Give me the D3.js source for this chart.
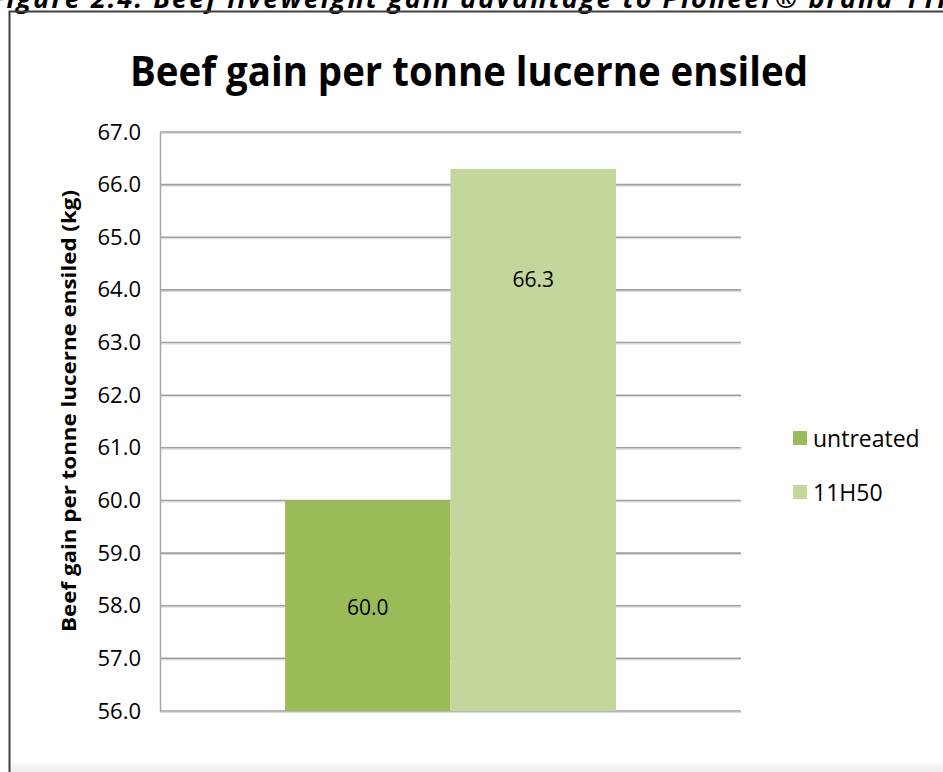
<!DOCTYPE html>
<html>
<head>
<meta charset="utf-8">
<script src="https://cdn.jsdelivr.net/npm/d3@7/dist/d3.min.js"></script>
<style>
  html, body { margin: 0; padding: 0; background: #fff; }
  svg { display: block; }
  text { font-family: "Open Sans", "Liberation Sans", sans-serif; fill: #000; }
</style>
</head>
<body>
<svg id="chart" width="943" height="772"></svg>
<script>
// Chart data
const categories = ["untreated", "11H50"];
const values = [60.0, 66.3];
const colors = ["#9BBB59", "#C3D69B"];
const yTicks = [56, 57, 58, 59, 60, 61, 62, 63, 64, 65, 66, 67];
const chartTitle = "Beef gain per tonne lucerne ensiled";
const yAxisTitle = "Beef gain per tonne lucerne ensiled (kg)";
const captionText = "Figure 2.4: Beef liveweight gain advantage to Pioneer\u00AE brand 11H50";

const svg = d3.select("#chart");
const W = 943, H = 772;

// Document caption above the chart frame (runs past the page top)
svg.append("text")
  .attr("x", -10).attr("y", 8)
  .attr("textLength", 1000).attr("lengthAdjust", "spacing")
  .style("font-size", "27px").style("font-weight", "bold").style("font-style", "italic")
  .text(captionText);

// Soft shading along the bottom edge
const defs = svg.append("defs");
const grad = defs.append("linearGradient").attr("id", "bottomShade")
  .attr("x1", 0).attr("y1", 0).attr("x2", 0).attr("y2", 1);
grad.append("stop").attr("offset", "0%").attr("stop-color", "#ffffff");
grad.append("stop").attr("offset", "100%").attr("stop-color", "#ececec");
svg.append("rect").attr("x", 10).attr("y", 760).attr("width", W - 10).attr("height", 12)
  .attr("fill", "url(#bottomShade)");

// Chart frame
svg.append("path")
  .attr("d", `M9.5,${H} V11.5 H${W + 2}`)
  .attr("fill", "none").attr("stroke", "#404040").attr("stroke-width", 2);

// Plot area
const plot = { left: 160, right: 741, top: 132, bottom: 711 };

const y = d3.scaleLinear().domain([56, 67]).range([plot.bottom, plot.top]);
const xGroup = d3.scaleBand().domain(["all"]).range([plot.left, plot.right]).paddingInner(0).paddingOuter(0.378);
const xSeries = d3.scaleBand().domain(categories).range([xGroup("all"), xGroup("all") + xGroup.bandwidth()]);

// Horizontal gridlines
const grid = svg.append("g");
grid.selectAll("line.shadow").data(yTicks).join("line").attr("class", "shadow")
  .attr("x1", plot.left).attr("x2", plot.right)
  .attr("y1", d => y(d) + 1.5).attr("y2", d => y(d) + 1.5)
  .attr("stroke", "#d9d9d9").attr("stroke-width", 1);
grid.selectAll("line.main").data(yTicks).join("line").attr("class", "main")
  .attr("x1", plot.left).attr("x2", plot.right)
  .attr("y1", d => y(d)).attr("y2", d => y(d))
  .attr("stroke", "#9f9f9f").attr("stroke-width", 1.6);

// Bars
svg.append("g").selectAll("rect").data(categories).join("rect")
  .attr("x", d => xSeries(d))
  .attr("width", xSeries.bandwidth())
  .attr("y", (d, i) => y(values[i]))
  .attr("height", (d, i) => y(56) - y(values[i]))
  .attr("fill", (d, i) => colors[i]);

// Y axis
const yAxis = d3.axisLeft(y).tickValues(yTicks).tickFormat(d3.format(".1f")).tickSize(0).tickPadding(19);
const gy = svg.append("g").attr("transform", `translate(${plot.left},0)`).call(yAxis);
gy.select(".domain").attr("stroke", "#a6a6a6").attr("stroke-width", 1.5);
gy.selectAll("text").style("font-family", "'Open Sans', sans-serif").style("font-size", "22px").attr("fill", "#000");

// Value labels inside the bars
const labelAt = [57.97, 64.19];
svg.append("g").selectAll("text").data(categories).join("text")
  .attr("x", d => xSeries(d) + xSeries.bandwidth() / 2)
  .attr("y", (d, i) => y(labelAt[i]))
  .attr("dy", "0.35em")
  .attr("text-anchor", "middle")
  .style("font-size", "21px")
  .text((d, i) => d3.format(".1f")(values[i]));

// Chart title
svg.append("text")
  .attr("x", 469).attr("y", 86)
  .attr("text-anchor", "middle")
  .attr("textLength", 678).attr("lengthAdjust", "spacingAndGlyphs")
  .style("font-size", "41px").style("font-weight", "bold")
  .text(chartTitle);

// Y axis title
svg.append("text")
  .attr("transform", `translate(76,411) rotate(-90)`)
  .attr("text-anchor", "middle")
  .attr("textLength", 442).attr("lengthAdjust", "spacingAndGlyphs")
  .style("font-size", "20px").style("font-weight", "bold")
  .text(yAxisTitle);

// Legend
const legend = svg.append("g").selectAll("g").data(categories).join("g")
  .attr("transform", (d, i) => `translate(793,${431 + i * 54})`);
legend.append("rect").attr("width", 14).attr("height", 14).attr("fill", (d, i) => colors[i]);
legend.append("text").attr("x", 20).attr("y", 8).attr("dy", "0.35em")
  .style("font-size", "23px").text(d => d);
</script>
</body>
</html>
